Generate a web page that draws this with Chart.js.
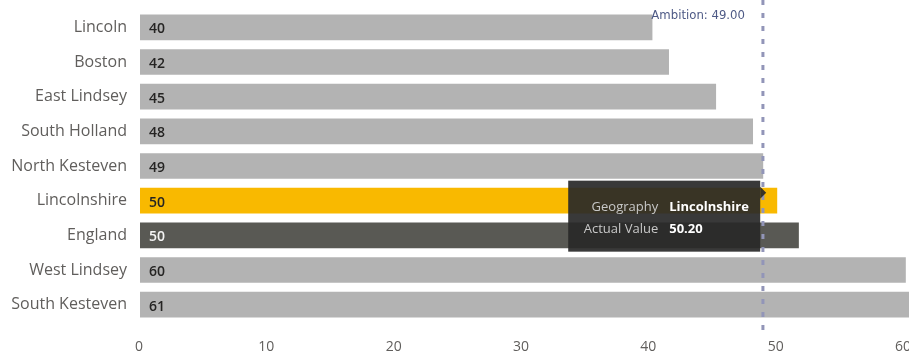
<!DOCTYPE html>
<html>
<head>
<meta charset="utf-8">
<script src="https://cdn.jsdelivr.net/npm/chart.js@4.4.1/dist/chart.umd.min.js"></script>
<style>
  html, body { margin: 0; padding: 0; background: #fff; overflow: hidden; }
  #wrap { width: 928px; height: 358px; }
</style>
</head>
<body>
<div id="wrap"><canvas id="chart"></canvas></div>
<script>
// data
var geographies = ["Lincoln", "Boston", "East Lindsey", "South Holland", "North Kesteven",
                   "Lincolnshire", "England", "West Lindsey", "South Kesteven"];
var actualValues = [40.4, 41.7, 45.4, 48.3, 49.1, 50.2, 51.9, 60.3, 61.2];
var barLabels = [40, 42, 45, 48, 49, 50, 50, 60, 61];
var xTicks = [0, 10, 20, 30, 40, 50, 60];
var ambition = 49.0;
var tooltipIndex = 5;

var barColors = geographies.map(function (g) {
    if (g == "Lincolnshire") return "#F9B900";
    if (g == "England") return "#595954";
    return "#B3B3B3";
});
var labelColors = geographies.map(function (g) {
    return g == "England" ? "#f4f4f4" : "#252423";
});

var font = "'Open Sans', 'Noto Sans', sans-serif";

// value labels at the base of each bar
var barLabelPlugin = {
    id: 'barLabels',
    afterDatasetsDraw: function (chart) {
        var ctx = chart.ctx;
        var meta = chart.getDatasetMeta(0);
        ctx.save();
        ctx.font = "600 14px " + font;
        ctx.textBaseline = 'middle';
        ctx.textAlign = 'left';
        meta.data.forEach(function (bar, i) {
            ctx.fillStyle = labelColors[i];
            ctx.fillText(String(barLabels[i]), bar.base + 10, bar.y + 2);
        });
        ctx.restore();
    }
};

// ambition line and its label
var ambitionPlugin = {
    id: 'ambition',
    afterDatasetsDraw: function (chart) {
        var ctx = chart.ctx;
        var x = chart.scales.x.getPixelForValue(ambition);
        ctx.save();
        ctx.strokeStyle = "#9295B8";
        ctx.lineWidth = 3;
        ctx.setLineDash([5, 8]);
        ctx.beginPath();
        ctx.moveTo(x, 0);
        ctx.lineTo(x, chart.chartArea.bottom + 11);
        ctx.stroke();
        ctx.setLineDash([]);
        ctx.fillStyle = "#4E5A86";
        ctx.font = "13px 'DejaVu Sans Condensed', Roboto, sans-serif";
        ctx.textAlign = 'right';
        ctx.textBaseline = 'middle';
        ctx.fillText("Ambition: " + ambition.toFixed(2), x - 18, 16);
        ctx.restore();
    }
};

// hover tooltip shown on Lincolnshire
var tipPlugin = {
    id: 'fixedTip',
    afterDraw: function (chart) {
        var ctx = chart.ctx;
        var bar = chart.getDatasetMeta(0).data[tooltipIndex];
        var right = bar.x - 18;
        var w = 192, h = 71;
        var left = right - w;
        var top = bar.y - 20;
        ctx.save();
        ctx.fillStyle = "rgba(40,40,40,0.92)";
        ctx.fillRect(left, top, w, h);
        ctx.beginPath();
        ctx.moveTo(right, top + 6);
        ctx.lineTo(right + 6, top + 12);
        ctx.lineTo(right, top + 18);
        ctx.closePath();
        ctx.fill();
        var colX = left + 90;
        ctx.textBaseline = 'middle';
        ctx.font = "13px " + font;
        ctx.fillStyle = "#C8C8C8";
        ctx.textAlign = 'right';
        ctx.fillText("Geography", colX, top + 27);
        ctx.fillText("Actual Value", colX, top + 49);
        ctx.font = "bold 13px " + font;
        ctx.fillStyle = "#ffffff";
        ctx.textAlign = 'left';
        ctx.fillText(geographies[tooltipIndex], colX + 11, top + 27);
        ctx.fillText(actualValues[tooltipIndex].toFixed(2), colX + 11, top + 49);
        ctx.restore();
    }
};

var ctx = document.getElementById('chart');
var chart = new Chart(ctx, {
    type: 'bar',
    data: {
        labels: geographies,
        datasets: [{
            data: actualValues,
            backgroundColor: barColors,
            borderColor: "rgba(255,255,255,0.45)",
            borderWidth: 1,
            borderSkipped: false,
            categoryPercentage: 1,
            barPercentage: 0.8,
            clip: false
        }]
    },
    options: {
        indexAxis: 'y',
        responsive: true,
        maintainAspectRatio: false,
        animation: false,
        layout: { padding: { top: 10, right: 0, left: 0, bottom: 0 } },
        plugins: {
            legend: { display: false },
            tooltip: { enabled: false }
        },
        scales: {
            x: {
                min: 0,
                max: 60,
                afterBuildTicks: function (scale) {
                    scale.ticks = xTicks.map(function (v) { return { value: v }; });
                },
                grid: { display: false, drawTicks: false },
                border: { display: false },
                ticks: {
                    padding: 17,
                    color: "#605E5C",
                    font: { family: font, size: 14 }
                },
                afterFit: function (scale) { scale.height = 36; }
            },
            y: {
                grid: { display: false, drawTicks: false },
                border: { display: false },
                ticks: {
                    padding: 12,
                    color: "#605E5C",
                    font: { family: font, size: 16 }
                },
                afterFit: function (scale) {
                    scale.width = 139;
                    scale.paddingTop = 0;
                    scale.paddingBottom = 0;
                }
            }
        }
    },
    plugins: [barLabelPlugin, ambitionPlugin, tipPlugin]
});
</script>
</body>
</html>
